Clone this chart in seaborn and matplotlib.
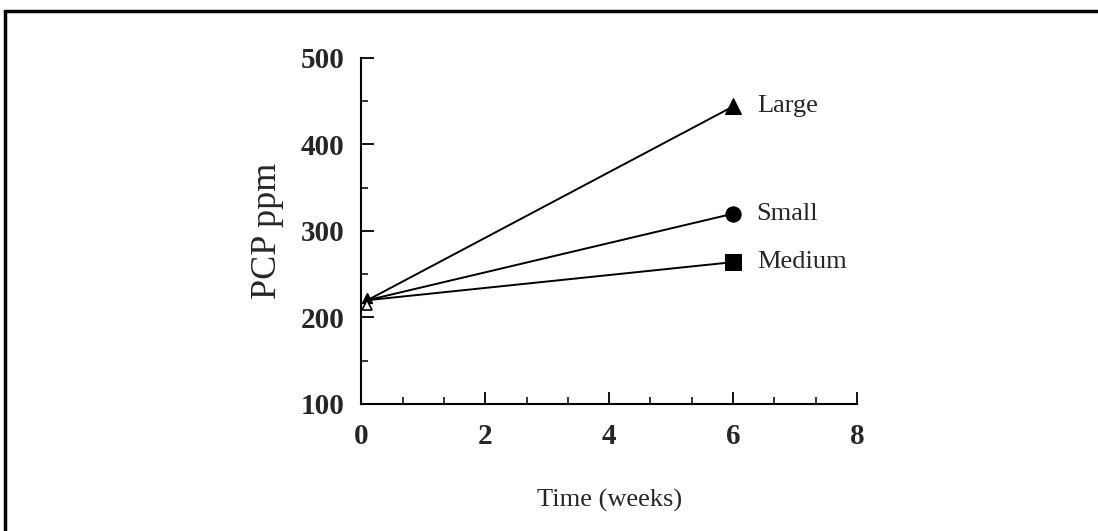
import numpy as np
import pandas as pd
import matplotlib
matplotlib.use('Agg')
import matplotlib.pyplot as plt
import seaborn as sns
from matplotlib.ticker import MultipleLocator
from matplotlib.patches import Rectangle

# Data
weeks = [0.1, 6.0]
sizes = ['Large', 'Small', 'Medium']
ppm_large = [220, 444]
ppm_small = [220, 320]
ppm_medium = [220, 264]
marker_map = {'Large': '^', 'Small': 'o', 'Medium': 's'}

df = pd.DataFrame({
    'week': weeks * 3,
    'ppm': ppm_large + ppm_small + ppm_medium,
    'size': [s for s in sizes for _ in weeks],
})

sns.set_style('ticks')
plt.rcParams['font.family'] = ['Liberation Serif', 'DejaVu Serif']

fig = plt.figure(figsize=(10.98, 5.31), dpi=100)
ax = fig.add_axes([0.329, 0.2392, 0.4516, 0.6516])

sns.lineplot(data=df, x='week', y='ppm', hue='size', style='size',
             palette={s: 'black' for s in sizes}, markers=marker_map,
             dashes=False, markersize=11, linewidth=1.4, markevery=[1],
             markeredgecolor='black', legend=False, ax=ax)

# overlapping start markers (small in the original)
start = df[df['week'] == weeks[0]]
ax.plot(start['week'].iloc[0], start['ppm'].iloc[0] + 3, marker='^',
        markersize=7, color='black', linestyle='none')
ax.plot(start['week'].iloc[0], start['ppm'].iloc[0] - 5, marker='^',
        markersize=7, markerfacecolor='white', markeredgecolor='black',
        markeredgewidth=1.2, linestyle='none')

# labels next to the end points
for s, vals in zip(sizes, [ppm_large, ppm_small, ppm_medium]):
    ax.annotate(s, xy=(weeks[-1], vals[-1]), xytext=(17, 0),
                textcoords='offset points', va='center', ha='left',
                fontsize=19)

ax.set_xlim(0, 8)
ax.set_ylim(100, 500)
ax.xaxis.set_major_locator(MultipleLocator(2))
ax.xaxis.set_minor_locator(MultipleLocator(2 / 3))
ax.yaxis.set_major_locator(MultipleLocator(100))
ax.yaxis.set_minor_locator(MultipleLocator(50))
ax.tick_params(axis='both', which='major', direction='in', length=9,
               width=1.3, labelsize=21, color='black')
ax.tick_params(axis='both', which='minor', direction='in', length=5,
               width=1.1, color='black')
ax.tick_params(axis='x', which='major', pad=14)
ax.tick_params(axis='y', which='major', pad=12)
for lab in ax.get_xticklabels() + ax.get_yticklabels():
    lab.set_fontweight('bold')

sns.despine(ax=ax)
for sp in ['left', 'bottom']:
    ax.spines[sp].set_linewidth(1.5)
    ax.spines[sp].set_color('black')

ax.set_xlabel('Time (weeks)', fontsize=19, labelpad=28)
ax.set_ylabel('PCP ppm', fontsize=26, labelpad=12)

# scanned frame around the figure
fig.patches.append(Rectangle((0.005, -0.02), 1.0, 0.999, transform=fig.transFigure,
                             fill=False, edgecolor='black', linewidth=2.5))

fig.savefig('out.png', dpi=100, facecolor='white')
